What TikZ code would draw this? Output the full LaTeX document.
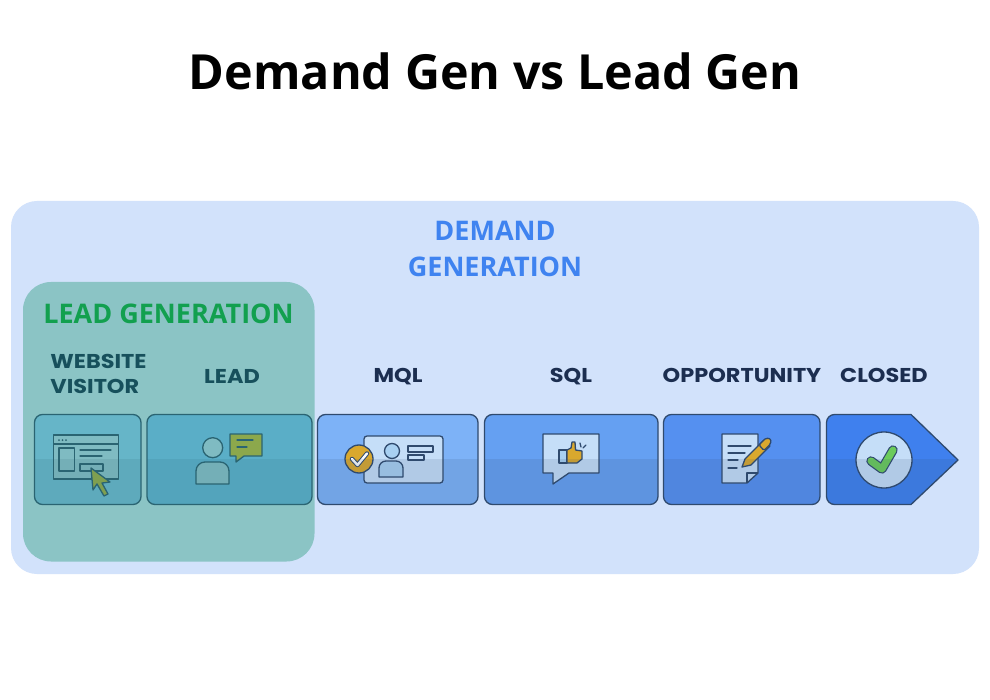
\documentclass[tikz,border=0pt]{standalone}
\usepackage{fontspec}
\setmainfont{Open Sans}
\newfontfamily\labelfont[FakeStretch=1.12]{Poppins}
\definecolor{panelblue}{HTML}{D2E2FB}
\definecolor{overlaygreen}{HTML}{8BC4C5}
\definecolor{inkline}{HTML}{2F4A6E}
\definecolor{labelink}{HTML}{1C2E50}
\definecolor{demandblue}{HTML}{3F83F0}
\definecolor{leadgreen}{HTML}{12A04F}
\definecolor{gold}{HTML}{D9A82E}
\definecolor{iconpale}{HTML}{C5DEF8}
\definecolor{iconsky}{HTML}{A8D0F2}
\definecolor{leaf}{HTML}{6BCB5B}
\definecolor{olive}{HTML}{8CA84C}
\definecolor{tilea}{HTML}{66B5C8}
\definecolor{tileb}{HTML}{5AAEC7}
\definecolor{tilec}{HTML}{7DB2F7}
\definecolor{tiled}{HTML}{65A0F2}
\definecolor{tilee}{HTML}{5590F0}
\definecolor{tilef}{HTML}{3F80EE}
\definecolor{tealink}{HTML}{2A6472}
\definecolor{tealpale}{HTML}{7FBBC2}
\definecolor{teallabel}{HTML}{17505C}
\tikzset{
  x=1pt,y=-1pt,
  ink/.style={draw=inkline,line width=1.3pt,line join=round},
  inkthin/.style={draw=inkline,line width=1.3pt,line cap=round},
  steplabel/.style={font=\labelfont\bfseries\fontsize{20}{25}\selectfont,text=labelink,align=left,inner sep=0pt},
  headlabel/.style={font=\bfseries\fontsize{27}{36}\selectfont,text=demandblue,align=center,inner sep=0pt},
  tileedge/.style={draw=inkline,line width=1.3pt},
  shadeband/.style={fill=inkline,fill opacity=.13,draw=none},
}
\newcommand{\tiletop}{414.5}
\newcommand{\tilebot}{504.5}
\newcommand{\tilemid}{459}
\newcommand{\steptile}[4]{%
  \fill[#3,rounded corners=8pt] (#1,\tiletop) rectangle (#2,\tilebot);
  #4
  \begin{scope}
    \clip[rounded corners=8pt] (#1,\tiletop) rectangle (#2,\tilebot);
    \fill[shadeband] (#1,\tilemid) rectangle (#2,\tilebot);
  \end{scope}
  \draw[tileedge,rounded corners=8pt] (#1,\tiletop) rectangle (#2,\tilebot);
}
\newcommand{\closedpath}{(860,414.5) [sharp corners] -- (911,414.5) -- (958,460) -- (911,504.5) -- (860,504.5) [rounded corners=8pt] -- (826.5,504.5) -- (826.5,414.5) -- cycle}
\begin{document}
\begin{tikzpicture}
\useasboundingbox (0,0) rectangle (990,700);
\fill[white] (0,0) rectangle (990,700);
\node[font=\bfseries\fontsize{48.4}{56}\selectfont,text=black,inner sep=0pt] (title) at (495,71) {Demand Gen vs Lead Gen};
\fill[panelblue,rounded corners=26pt] (11,201) rectangle (979,574);
\node[headlabel] (demand) at (495,230.5) {DEMAND};
\node[headlabel] (generation) at (495,266.5) {GENERATION};

% lead generation panel
\fill[overlaygreen,rounded corners=28pt] (23,282) rectangle (314.5,561.5);
\node[font=\bfseries\fontsize{27}{30}\selectfont,text=leadgreen,inner sep=0pt] (leadgen) at (168.5,314) {LEAD GENERATION};

% labels
\node[steplabel,text=teallabel] (visitor) at (98.5,374) {WEBSITE\\VISITOR};
\node[steplabel,text=teallabel,anchor=base] (lead) at (232,383) {LEAD};
\node[steplabel,anchor=base] (mql) at (398,382.5) {MQL};
\node[steplabel,anchor=base] (sql) at (571,382.5) {SQL};
\node[steplabel,anchor=base] (opp) at (742,382.5) {OPPORTUNITY};
\node[steplabel,anchor=base] (closed) at (884,382.5) {CLOSED};

\begin{scope}
\colorlet{inkline}{tealink}
\colorlet{iconpale}{tealpale}
\colorlet{iconsky}{tealpale}
% website visitor
\steptile{34.5}{141}{tilea}{%
  \filldraw[ink,fill=iconpale] (53.5,435) rectangle (118.7,479);
  \draw[ink] (53.5,444) -- (118.7,444);
  \fill[inkline] (59,440) circle (1) (62.5,440) circle (1) (66,440) circle (1);
  \filldraw[ink,fill=iconsky] (59,448) rectangle (74.5,471);
  \draw[inkthin] (80,450) -- (111,450) (80,456) -- (102,456);
  \filldraw[ink,fill=iconsky] (80,464) rectangle (103,471);
  \filldraw[ink,fill=olive] (91,468) -- (110,482) -- (102,483) -- (108,494) -- (104,496) -- (97,484) -- (93,490) -- cycle;
}
% lead
\steptile{147}{312}{tileb}{%
  \filldraw[ink,fill=iconpale] (212.7,447.7) circle (10);
  \filldraw[ink,fill=iconpale] (196,484) [rounded corners=9pt] -- (196,462) -- (229,462) [sharp corners] -- (229,484) -- cycle;
  \filldraw[ink,fill=olive] (230,434) -- (262,434) -- (262,456) -- (244,456) -- (236,462) -- (236,456) -- (230,456) -- cycle;
  \draw[inkthin] (237,440) -- (253,440) (237,447) -- (247,447);
}
\end{scope}
% MQL
\steptile{317.5}{478}{tilec}{%
  \filldraw[ink,fill=iconpale,rounded corners=3pt] (364,436) rectangle (443,483);
  \filldraw[ink,fill=iconsky] (392,451) circle (7.5);
  \filldraw[ink,fill=iconsky] (379,477) [rounded corners=7pt] -- (379,461) -- (403,461) [sharp corners] -- (403,477) -- cycle;
  \filldraw[ink,fill=iconpale] (408,446) rectangle (433,452);
  \filldraw[ink,fill=iconpale] (408,455) rectangle (424,460);
  \filldraw[ink,fill=gold] (359,459) circle (14);
  \draw[inkline,line width=4.4pt,line cap=round,line join=round] (352,459) -- (357.5,465) -- (367,453.5);
  \draw[white!92!iconpale,line width=2.4pt,line cap=round,line join=round] (352,459) -- (357.5,465) -- (367,453.5);
}
% SQL
\steptile{484.5}{658}{tiled}{%
  \filldraw[ink,fill=iconpale] (543,434) -- (599,434) -- (599,473) -- (569,473) -- (553,484) -- (553,473) -- (543,473) -- cycle;
  \filldraw[ink,fill=iconsky] (559,450) rectangle (567,463);
  \filldraw[ink,fill=gold] (567,450) -- (571,448) -- (572,442) -- (575,442) -- (575.5,450) -- (582,451) -- (582,459) -- (577,463) -- (567,463) -- cycle;
  \draw[inkthin] (580,443) -- (581,447) (586,445) -- (583,448);
}
% opportunity
\steptile{663.5}{820}{tilee}{%
  \filldraw[ink,fill=iconpale] (722,434) -- (758,434) -- (758,473) -- (747,483) -- (722,483) -- cycle;
  \draw[ink] (758,473) -- (747,473) -- (747,483);
  \draw[inkthin] (728,446) -- (751,446) (728,453) -- (745,453) (728,460) -- (738,460) (728,468) -- (737,468);
  \filldraw[ink,fill=gold] (742,467) -- (745,459) -- (764,440) -- (770,446) -- (751,465) -- cycle;
  \filldraw[ink,fill=gold,rounded corners=1.5pt] (759,445) -- (766,438) -- (771,439) -- (770.5,444) -- (764,450.5) -- cycle;
}
% closed
\fill[tilef] \closedpath;
\filldraw[ink,fill=iconpale] (884,460) circle (28);
\draw[inkline,line width=9.4pt,line cap=round,line join=round] (871,461) -- (882,469) -- (893,450);
\draw[leaf,line width=7pt,line cap=round,line join=round] (871,461) -- (882,469) -- (893,450);
\begin{scope}
  \clip \closedpath;
  \fill[shadeband] (826,\tilemid) rectangle (958,\tilebot);
\end{scope}
\draw[tileedge,line join=round] \closedpath;
\end{tikzpicture}
\end{document}
